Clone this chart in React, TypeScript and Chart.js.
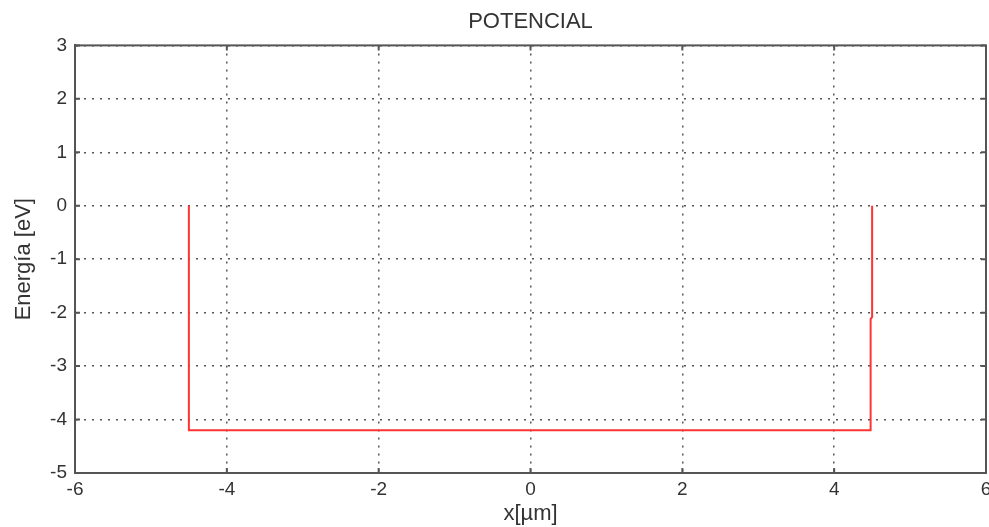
import React, { useEffect, useRef } from 'react';
import { Chart, registerables } from 'chart.js';

Chart.register(...registerables);

// Potential well outline (x in µm, energy in eV)
const xValues = [-4.5, -4.5, 4.48, 4.48, 4.5, 4.5];
const yValues = [0, -4.2, -4.2, -2.12, -2.08, 0];

const xTicks = [-6, -4, -2, 0, 2, 4, 6];
const yTicks = [-5, -4, -3, -2, -1, 0, 1, 2, 3];

const titleText = 'POTENCIAL';
const xTitle = 'x[µm]';
const yTitle = 'Energía [eV]';

const FONT = "'Liberation Sans', Arial, sans-serif";
const TEXT = '#333333';
const AXIS = '#555555';

const framePlugin = {
  id: 'frame',
  afterDraw(chart: any) {
    const { ctx, chartArea } = chart;
    const { left, right, top, bottom } = chartArea;
    const xs = chart.scales.x;
    const ys = chart.scales.y;
    ctx.save();
    ctx.strokeStyle = AXIS;
    ctx.lineWidth = 2;
    ctx.setLineDash([]);
    ctx.strokeRect(left, top, right - left, bottom - top);
    const tl = 5;
    ctx.beginPath();
    xTicks.forEach((v) => {
      const px = xs.getPixelForValue(v);
      ctx.moveTo(px, bottom);
      ctx.lineTo(px, bottom - tl);
      ctx.moveTo(px, top);
      ctx.lineTo(px, top + tl);
    });
    yTicks.forEach((v) => {
      const py = ys.getPixelForValue(v);
      ctx.moveTo(left, py);
      ctx.lineTo(left + tl, py);
      ctx.moveTo(right, py);
      ctx.lineTo(right - tl, py);
    });
    ctx.stroke();
    ctx.restore();
  },
};

export default function App() {
  const ref = useRef<HTMLCanvasElement | null>(null);

  useEffect(() => {
    if (!ref.current) return;
    const data = xValues.map((x, i) => ({ x, y: yValues[i] }));
    const chart = new Chart(ref.current, {
      type: 'scatter',
      data: {
        datasets: [
          {
            data,
            showLine: true,
            borderColor: '#ff3333',
            borderWidth: 2,
            pointRadius: 0,
            tension: 0,
            fill: false,
          },
        ],
      },
      options: {
        animation: false,
        responsive: false,
        layout: { padding: { left: 0, right: 3, top: 0, bottom: 0 } },
        plugins: {
          legend: { display: false },
          tooltip: { enabled: false },
          title: {
            display: true,
            fullSize: false,
            text: titleText,
            color: TEXT,
            font: { family: FONT, size: 22, weight: 'normal' as any },
            padding: { top: 9, bottom: 10 },
          },
        },
        scales: {
          x: {
            type: 'linear',
            min: -6,
            max: 6,
            afterBuildTicks: (s: any) => {
              s.ticks = xTicks.map((v) => ({ value: v }));
            },
            afterFit: (s: any) => {
              s.height = 54;
              s.paddingLeft = 0;
              s.paddingRight = 0;
            },
            ticks: {
              color: TEXT,
              font: { family: FONT, size: 19 },
              padding: 5,
              maxRotation: 0,
              autoSkip: false,
            },
            grid: {
              color: '#555555',
              lineWidth: 1.5,
              drawTicks: false,
            },
            border: { display: true, color: AXIS, width: 2, dash: [2, 6] } as any,
            title: {
              display: true,
              text: xTitle,
              color: TEXT,
              font: { family: FONT, size: 22 },
              padding: { top: 0, bottom: 0 },
            },
          },
          y: {
            type: 'linear',
            min: -5,
            max: 3,
            afterBuildTicks: (s: any) => {
              s.ticks = yTicks.map((v) => ({ value: v }));
            },
            afterFit: (s: any) => {
              s.width = 75;
            },
            ticks: {
              color: TEXT,
              font: { family: FONT, size: 19 },
              padding: 8,
              autoSkip: false,
            },
            grid: {
              color: '#555555',
              lineWidth: 1.5,
              drawTicks: false,
            },
            border: { display: true, color: AXIS, width: 2, dash: [2, 6] } as any,
            title: {
              display: true,
              text: yTitle,
              color: TEXT,
              font: { family: FONT, size: 22 },
              padding: { top: 11, bottom: 0 },
            },
          },
        },
      },
      plugins: [framePlugin],
    });
    return () => chart.destroy();
  }, []);

  return (
    <div style={{ position: 'fixed', left: 0, top: 0, width: 989, height: 527, background: '#fff' }}>
      <canvas ref={ref} width={989} height={527} style={{ display: 'block' }} />
    </div>
  );
}
